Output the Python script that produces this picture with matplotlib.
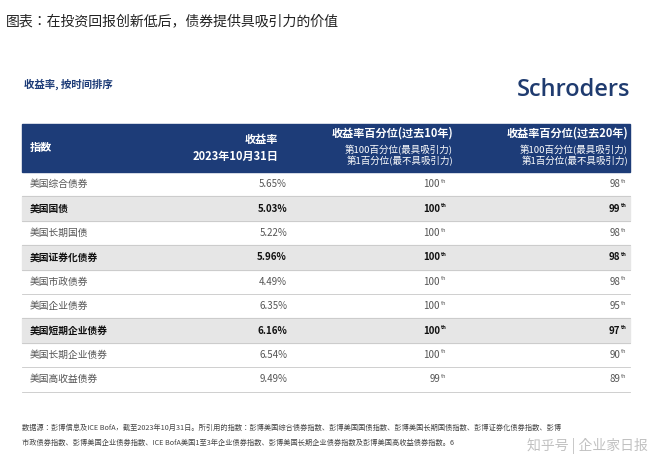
import matplotlib
matplotlib.use("Agg")
import matplotlib.pyplot as plt
from matplotlib.patches import Rectangle
from matplotlib import font_manager as fm

cands = [f for f in fm.findSystemFonts() if "cjk" in f.lower()]
names = []
for f in cands:
    try:
        fm.fontManager.addfont(f)
        names.append(fm.FontProperties(fname=f).get_name())
    except Exception:
        pass
sans = [n for n in names if "Sans" in n]
pref = ["Noto Sans CJK SC"] + [n for n in sans if "SC" in n] + sans + ["DejaVu Sans"]
plt.rcParams["font.family"] = "sans-serif"
plt.rcParams["font.sans-serif"] = pref

indices = ["美国综合债券", "美国国债", "美国长期国债", "美国证券化债券", "美国市政债券",
           "美国企业债券", "美国短期企业债券", "美国长期企业债券", "美国高收益债券"]
yields = [5.65, 5.03, 5.22, 5.96, 4.49, 6.35, 6.16, 6.54, 9.49]
pct10 = [100, 100, 100, 100, 100, 100, 100, 100, 99]
pct20 = [98, 99, 98, 98, 98, 95, 97, 90, 89]
highlight = [False, True, False, True, False, False, True, False, False]

navy = "#1d3c78"
fig = plt.figure(figsize=(6.6, 4.68), dpi=100)
ax = fig.add_axes([0, 0, 1, 1])
ax.set_xlim(0, 660); ax.set_ylim(468, 0); ax.axis("off")

ax.text(6, 21, "图表：在投资回报创新低后，债券提供具吸引力的价值", fontsize=10, va="center", color="#222")
ax.text(24, 84, "收益率, 按时间排序", fontsize=7.5, va="center", color=navy, fontweight="bold")
ax.text(630, 90, "Schroders", fontsize=17, va="center", ha="right", color="#1f3b6f",
        family="Open Sans", fontweight="semibold")

ax.add_patch(Rectangle((22, 124), 608, 48, color=navy, zorder=0))
ax.text(30, 147, "指数", fontsize=8, color="white", fontweight="bold", va="center")
ax.text(278, 139, "收益率", fontsize=8, color="white", fontweight="bold", va="center", ha="right")
ax.text(278, 156, "2023年10月31日", fontsize=8, color="white", fontweight="bold", va="center", ha="right")
ax.text(453, 133, "收益率百分位(过去10年)", fontsize=8, color="white", fontweight="bold", va="center", ha="right")
ax.text(453, 150, "第100百分位(最具吸引力)", fontsize=6.8, color="white", va="center", ha="right")
ax.text(453, 161, "第1百分位(最不具吸引力)", fontsize=6.8, color="white", va="center", ha="right")
ax.text(628, 133, "收益率百分位(过去20年)", fontsize=8, color="white", fontweight="bold", va="center", ha="right")
ax.text(628, 150, "第100百分位(最具吸引力)", fontsize=6.8, color="white", va="center", ha="right")
ax.text(628, 161, "第1百分位(最不具吸引力)", fontsize=6.8, color="white", va="center", ha="right")

top, h = 172, 24.4
for i, name in enumerate(indices):
    y0 = top + i * h
    yc = y0 + h / 2
    if highlight[i]:
        ax.add_patch(Rectangle((22, y0), 608, h, color="#e6e6e6", zorder=0))
    ax.plot([22, 630], [y0 + h, y0 + h], color="#c8c8c8", lw=0.6)
    fw = "bold" if highlight[i] else "normal"
    col = "#111" if highlight[i] else "#555"
    ax.text(30, yc, name, fontsize=7, va="center", color=col, fontweight=fw)
    ax.text(287, yc, f"{yields[i]:.2f}%", fontsize=7, va="center", ha="right", color=col, fontweight=fw)
    ax.text(440, yc, f"{pct10[i]}", fontsize=7, va="center", ha="right", color=col, fontweight=fw)
    ax.text(440.5, yc - 3, "th", fontsize=4, va="center", ha="left", color=col, fontweight=fw)
    ax.text(620, yc, f"{pct20[i]}", fontsize=7, va="center", ha="right", color=col, fontweight=fw)
    ax.text(620.5, yc - 3, "th", fontsize=4, va="center", ha="left", color=col, fontweight=fw)

ax.text(22, 428, "数据源：彭博信息及ICE BofA，截至2023年10月31日。所引用的指数：彭博美国综合债券指数、彭博美国国债指数、彭博美国长期国债指数、彭博证券化债券指数、彭博",
        fontsize=5.2, va="center", color="#444")
ax.text(22, 443, "市政债券指数、彭博美国企业债券指数、ICE BofA美国1至3年企业债券指数、彭博美国长期企业债券指数及彭博美国高收益债券指数。6",
        fontsize=5.2, va="center", color="#444")
ax.text(648, 446, "知乎号 | 企业家日报", fontsize=10, va="center", ha="right", color="#bbbbbb", alpha=0.9)

fig.savefig("out.png", dpi=100)
